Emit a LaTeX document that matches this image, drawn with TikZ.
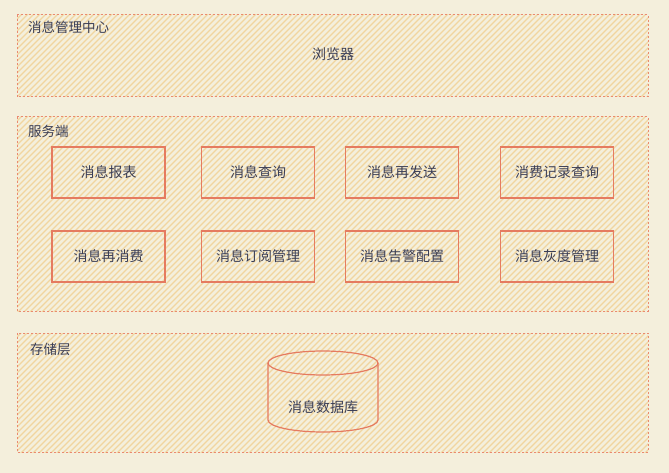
\documentclass[tikz,border=0pt]{standalone}
\usepackage{fontspec}
\setmainfont{Noto Sans CJK SC}
\definecolor{bg}{HTML}{F4EFDC}
\definecolor{hatch}{HTML}{F1D59F}
\definecolor{boxline}{HTML}{E57B60}
\definecolor{contline}{HTML}{EA8A70}
\definecolor{txt}{HTML}{3A3D55}
\newcommand{\hatchit}[1]{%
  \begin{scope}
    \clip #1;
    \foreach \i in {-480,-474,...,675}{\draw[hatch,line width=1.3pt] (\i,-480) -- ++(480,480);}
  \end{scope}}
\tikzset{
  x=1pt,y=1pt,
  container/.style={draw=contline,line width=1pt,dash pattern=on 2pt off 2pt},
  modbox/.style={draw=boxline,line width=1.2pt,minimum width=113pt,minimum height=51pt,inner sep=0pt,text=txt,font=\fontsize{14}{16}\selectfont},
  lbl/.style={text=txt,font=\fontsize{13.5}{15}\selectfont,anchor=west,inner sep=0pt},
  plain/.style={text=txt,font=\fontsize{14}{16}\selectfont},
  dbline/.style={draw=boxline,line width=1.2pt}
}
\begin{document}
\begin{tikzpicture}
\fill[bg] (0,0) rectangle (669,-473);
\useasboundingbox (0,0) rectangle (669,-473);
% containers
\hatchit{(17,-15) rectangle (648,-97)}
\path[container] (17,-15) rectangle (648,-97);
\node[lbl] (t1) at (28,-27) {消息管理中心};
\node[plain] (browser) at (333,-54) {浏览器};
\hatchit{(17,-117) rectangle (648,-311)}
\path[container] (17,-117) rectangle (648,-311);
\node[lbl] (t2) at (28,-131) {服务端};
\hatchit{(17,-333) rectangle (648,-452)}
\path[container] (17,-333) rectangle (648,-452);
\node[lbl] (t3) at (30,-349) {存储层};
% row 1
\node[modbox] (a1) at (108.5,-172.5) {消息报表};
\node[modbox] (a2) at (258,-172.5) {消息查询};
\node[modbox] (a3) at (402,-172.5) {消息再发送};
\node[modbox] (a4) at (557,-172.5) {消费记录查询};
% row 2
\node[modbox] (b1) at (108.5,-256.5) {消息再消费};
\node[modbox] (b2) at (258,-256.5) {消息订阅管理};
\node[modbox] (b3) at (402,-256.5) {消息告警配置};
\node[modbox] (b4) at (557,-256.5) {消息灰度管理};
% database cylinder
\draw[dbline] (268,-363) -- (268,-420) arc[start angle=180,end angle=360,x radius=55,y radius=12] -- (378,-363);
\draw[dbline] (323,-363) ellipse[x radius=55,y radius=12];
\node[plain] (dbl) at (323,-407) {消息数据库};
\end{tikzpicture}
\end{document}
